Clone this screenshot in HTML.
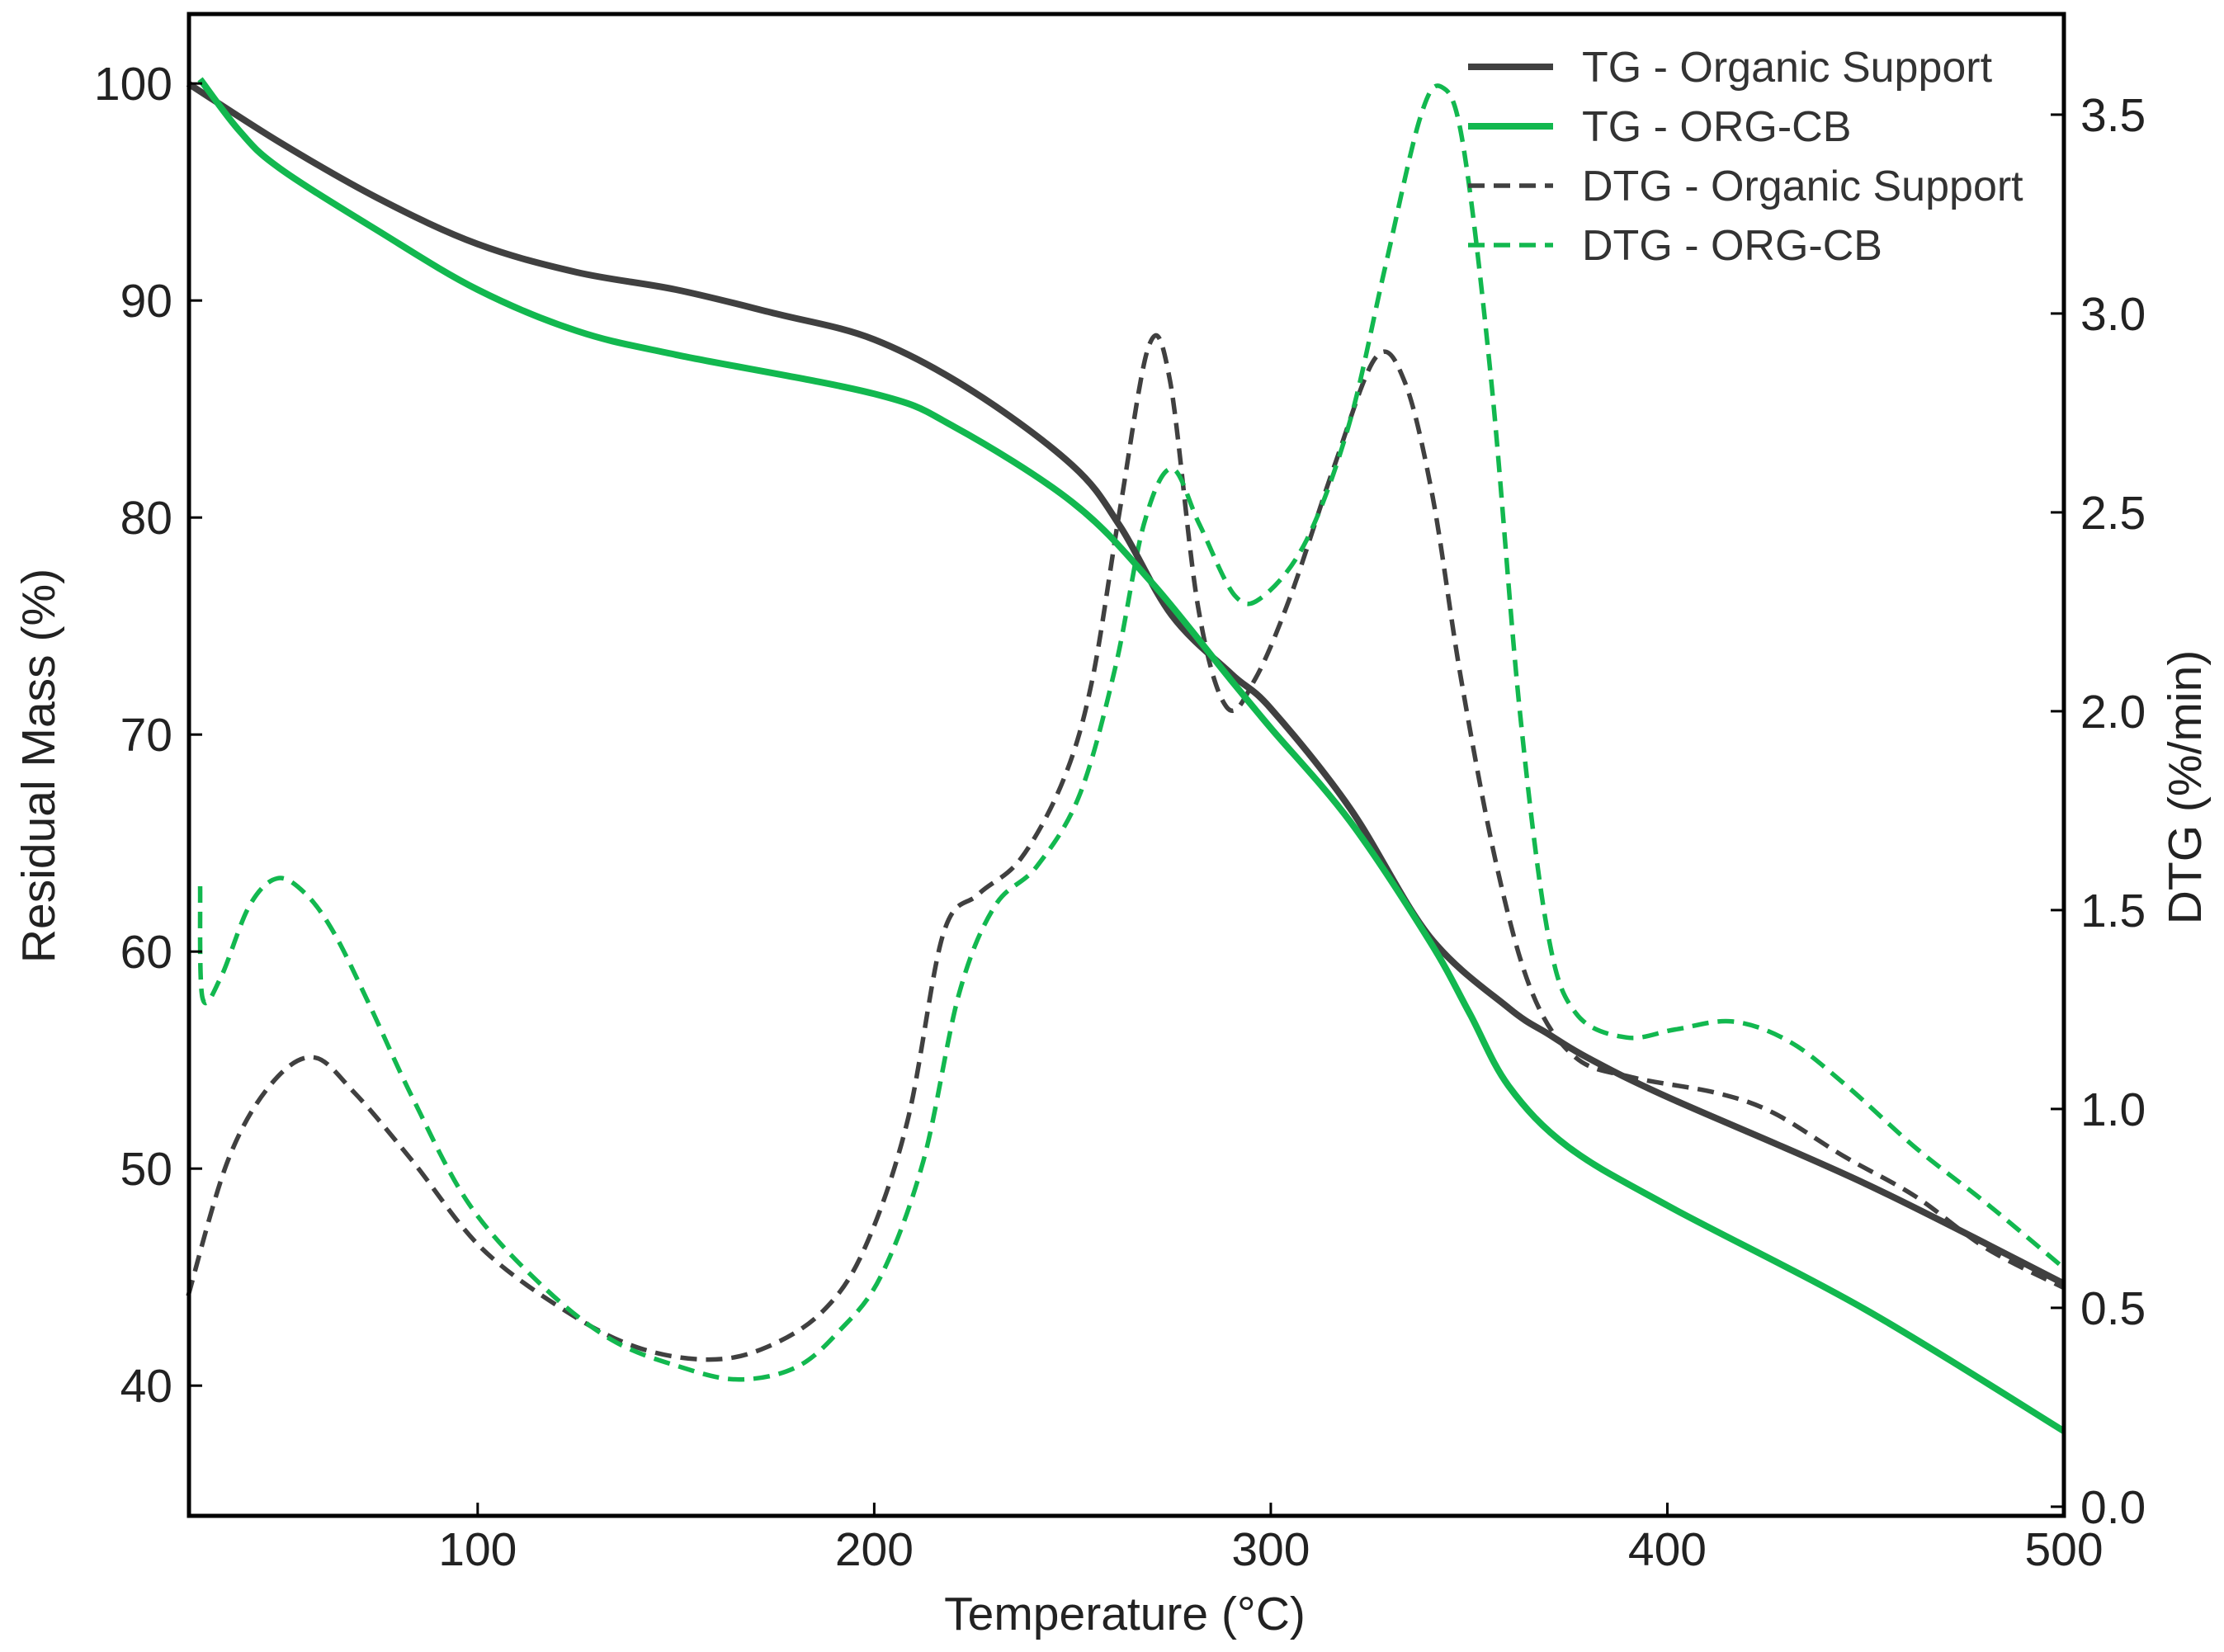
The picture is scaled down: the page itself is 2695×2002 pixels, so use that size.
<!DOCTYPE html>
<html><head><meta charset="utf-8"><style>
html,body{margin:0;padding:0;background:#fff;}
svg{display:block;font-family:"Liberation Sans","DejaVu Sans",sans-serif;}
</style></head><body>
<svg id="chart" width="2695" height="2002" viewBox="0 0 2695 2002" xmlns="http://www.w3.org/2000/svg">
<g id="series"></g>
<g id="axes"></g>
<g id="legend"></g>
</svg>
<script>
const xTicks=[100,200,300,400,500];
const yLeftTicks=[40,50,60,70,80,90,100];
const yRightTicks=[0.0,0.5,1.0,1.5,2.0,2.5,3.0,3.5];
const tgOrgX=[27,50,75,100,125,150,175,200,225,250,262,275,290,300,320,340,360,370,380,400,450,500];
const tgOrgY=[100,97.3,94.7,92.6,91.3,90.5,89.4,88.2,85.8,82.4,79.6,75.5,72.8,71.2,66.6,60.7,57.4,56.2,55.1,53.3,49.3,44.7];
const tgCbX=[30,40,50,75,100,125,150,200,220,250,270,290,300,320,340,350,360,375,400,450,500];
const tgCbY=[100.2,97.8,96.1,93.2,90.5,88.6,87.5,85.7,84.2,80.7,77,72.5,70.3,66,60.5,57.2,53.8,51.0,48.3,43.5,37.9];
const dtgOrgX=[27,37,47.7,58.5,69,83.5,101,122.5,140.4,158.3,172.6,186.9,197.6,208.4,217.4,226.3,237,247.8,255,262,269.3,274.6,281.7,288.9,296,305,315.8,326.5,333.7,340.8,348,357,366,376.8,391,412.5,426.8,444.7,462.6,480.4,500];
const dtgOrgY=[0.53,0.87,1.06,1.13,1.04,0.87,0.65,0.49,0.40,0.37,0.40,0.49,0.65,0.97,1.44,1.54,1.63,1.83,2.08,2.51,2.92,2.83,2.26,2.01,2.08,2.29,2.61,2.89,2.83,2.54,2.08,1.61,1.29,1.13,1.08,1.04,0.99,0.88,0.78,0.65,0.55];
const dtgCbX=[30,30.6,35.2,42.4,49.5,56.7,63.9,72.8,83.5,97.9,115.8,133.7,151.6,165.9,180.2,191,201.7,212.4,221.4,230.4,241,251.8,260.8,268,275,282,291,298.2,309,319.7,328.7,337.6,343,348.4,355.6,362.7,369.9,377,389.6,402.1,416.4,430.7,445,462.9,480.8,500];
const dtgCbY=[1.56,1.28,1.33,1.51,1.58,1.54,1.44,1.26,1.03,0.76,0.56,0.42,0.35,0.32,0.35,0.44,0.58,0.87,1.29,1.51,1.61,1.79,2.11,2.47,2.61,2.47,2.29,2.29,2.43,2.72,3.11,3.49,3.57,3.43,2.83,2.01,1.44,1.24,1.18,1.20,1.22,1.17,1.06,0.90,0.76,0.60];

const L=229,R=2501,T=17,B=1837;
const xMin=27.2,xMax=500,yMin=34.0,yMax=103.2,rMin=-0.023,rMax=3.753;
const sx=v=>L+(v-xMin)/(xMax-xMin)*(R-L);
const sy=v=>B-(v-yMin)/(yMax-yMin)*(B-T);
const sr=v=>B-(v-rMin)/(rMax-rMin)*(B-T);
const NS="http://www.w3.org/2000/svg";
function mk(tag,attrs,parent){const e=document.createElementNS(NS,tag);for(const k in attrs)e.setAttribute(k,attrs[k]);parent.appendChild(e);return e;}
function pathFrom(xs,ys,fy){
  const p=xs.map((x,i)=>[sx(x),fy(ys[i])]);
  let d="M"+p[0][0].toFixed(1)+","+p[0][1].toFixed(1);
  for(let i=0;i<p.length-1;i++){
    const p0=p[Math.max(i-1,0)],p1=p[i],p2=p[i+1],p3=p[Math.min(i+2,p.length-1)];
    const t=1/6;
    const c1=[p1[0]+(p2[0]-p0[0])*t,p1[1]+(p2[1]-p0[1])*t];
    const c2=[p2[0]-(p3[0]-p1[0])*t,p2[1]-(p3[1]-p1[1])*t];
    d+=" C"+c1[0].toFixed(1)+","+c1[1].toFixed(1)+" "+c2[0].toFixed(1)+","+c2[1].toFixed(1)+" "+p2[0].toFixed(1)+","+p2[1].toFixed(1);
  }
  return d;
}
const DARK="#404040",GREEN="#12b84f";
const series=document.getElementById("series");
let e;
e=mk("path",{d:pathFrom(dtgOrgX,dtgOrgY,sr),fill:"none",stroke:DARK,"stroke-width":5.5,"stroke-dasharray":"20 11"},series);


e=mk("path",{d:pathFrom(dtgCbX,dtgCbY,sr),fill:"none",stroke:GREEN,"stroke-width":5.5,"stroke-dasharray":"20 11"},series);


e=mk("path",{d:pathFrom(tgOrgX,tgOrgY,sy),fill:"none",stroke:DARK,"stroke-width":8},series);


e=mk("path",{d:pathFrom(tgCbX,tgCbY,sy),fill:"none",stroke:GREEN,"stroke-width":8},series);



const axes=document.getElementById("axes");
e=mk("rect",{x:L,y:T,width:R-L,height:B-T,fill:"none",stroke:"#000","stroke-width":5},axes);


const FS=57;
xTicks.forEach(v=>{
  const x=sx(v);
  mk("line",{x1:x,y1:B,x2:x,y2:B-16,stroke:"#000","stroke-width":3},axes);
  e=mk("text",{x:x,y:B+60,"text-anchor":"middle","font-size":FS,fill:"#222"},axes);
  e.textContent=v;
  
  
});
yLeftTicks.forEach(v=>{
  const y=sy(v);
  mk("line",{x1:L,y1:y,x2:L+16,y2:y,stroke:"#000","stroke-width":3},axes);
  e=mk("text",{x:L-20,y:y+20,"text-anchor":"end","font-size":FS,fill:"#222"},axes);
  e.textContent=v;
  
  
});
yRightTicks.forEach(v=>{
  const y=sr(v);
  mk("line",{x1:R,y1:y,x2:R-16,y2:y,stroke:"#000","stroke-width":3},axes);
  e=mk("text",{x:R+20,y:y+20,"text-anchor":"start","font-size":FS,fill:"#222"},axes);
  e.textContent=v.toFixed(1);
  
  
});
e=mk("text",{x:1363,y:1975,"text-anchor":"middle","font-size":57,fill:"#222"},axes);
e.textContent="Temperature (°C)";


e=mk("text",{x:0,y:0,"text-anchor":"middle","font-size":57,fill:"#222",transform:"translate(66,928) rotate(-90)"},axes);
e.textContent="Residual Mass (%)";


e=mk("text",{x:0,y:0,"text-anchor":"middle","font-size":57,fill:"#222",transform:"translate(2667,954) rotate(-90)"},axes);
e.textContent="DTG (%/min)";



const legendLabels=["TG - Organic Support","TG - ORG-CB","DTG - Organic Support","DTG - ORG-CB"];
const legendColors=[DARK,GREEN,DARK,GREEN];
const legendDash=[false,false,true,true];
const lg=document.getElementById("legend");
legendLabels.forEach((t,i)=>{
  const y=81+i*72;
  e=mk("line",{x1:1779,y1:y,x2:1882,y2:y,stroke:legendColors[i],"stroke-width":legendDash[i]?5.5:8},lg);
  if(legendDash[i])e.setAttribute("stroke-dasharray","20 11");
  
  
  e=mk("text",{x:1917,y:y+18,"font-size":52,fill:"#333"},lg);
  e.textContent=t;
  
  
});
</script>
</body></html>
